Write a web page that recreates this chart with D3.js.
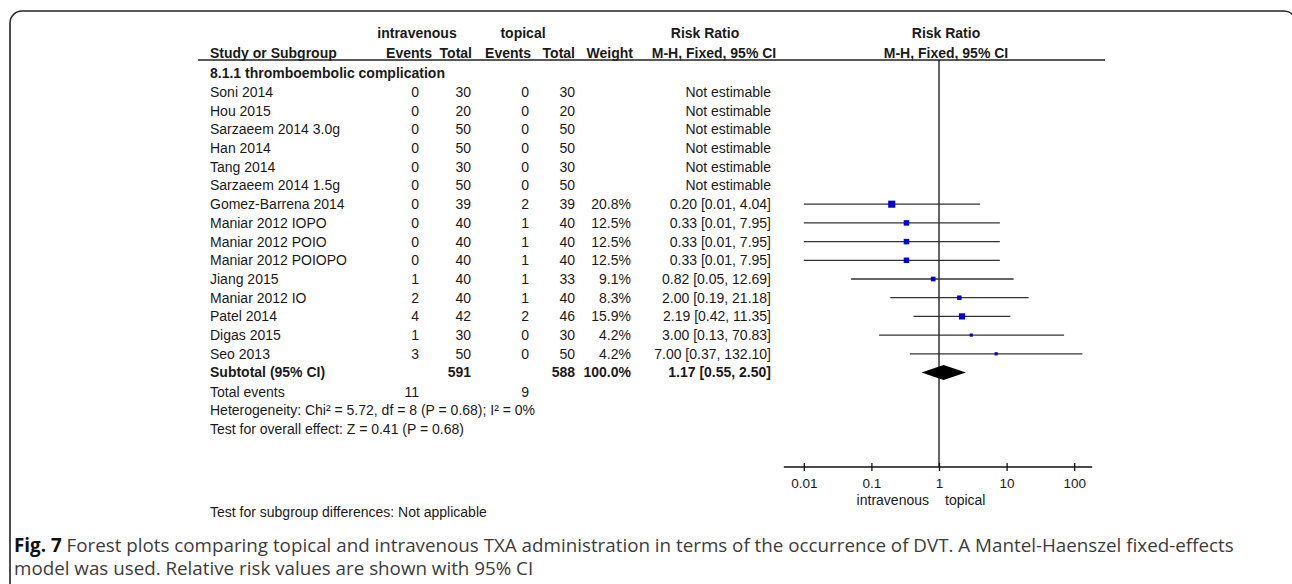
<!DOCTYPE html>
<html lang="en">
<head>
<meta charset="UTF-8">
<title>Forest plot - DVT</title>
<script src="https://d3js.org/d3.v7.min.js"></script>
<style>
  body { margin: 0; background: #fff; }
  text { font-family: "Liberation Sans", Arial, sans-serif; fill: #1a1a1a; }
  .cap { font-family: "Open Sans", "Noto Sans", sans-serif; fill: #3c3c3c; }
</style>
</head>
<body>
<svg id="forest" width="1292" height="584"></svg>
<script>
  // data
  const studies = ["Soni 2014", "Hou 2015", "Sarzaeem 2014 3.0g", "Han 2014", "Tang 2014",
    "Sarzaeem 2014 1.5g", "Gomez-Barrena 2014", "Maniar 2012 IOPO", "Maniar 2012 POIO",
    "Maniar 2012 POIOPO", "Jiang 2015", "Maniar 2012 IO", "Patel 2014", "Digas 2015", "Seo 2013"];
  const ivEvents = [0, 0, 0, 0, 0, 0, 0, 0, 0, 0, 1, 2, 4, 1, 3];
  const ivTotal = [30, 20, 50, 50, 30, 50, 39, 40, 40, 40, 40, 40, 42, 30, 50];
  const topEvents = [0, 0, 0, 0, 0, 0, 2, 1, 1, 1, 1, 1, 2, 0, 0];
  const topTotal = [30, 20, 50, 50, 30, 50, 39, 40, 40, 40, 33, 40, 46, 30, 50];
  const weights = [null, null, null, null, null, null, 20.8, 12.5, 12.5, 12.5, 9.1, 8.3, 15.9, 4.2, 4.2];
  const rr = [null, null, null, null, null, null, 0.20, 0.33, 0.33, 0.33, 0.82, 2.00, 2.19, 3.00, 7.00];
  const ciLow = [null, null, null, null, null, null, 0.01, 0.01, 0.01, 0.01, 0.05, 0.19, 0.42, 0.13, 0.37];
  const ciHigh = [null, null, null, null, null, null, 4.04, 7.95, 7.95, 7.95, 12.69, 21.18, 11.35, 70.83, 132.10];
  const ciText = ["Not estimable", "Not estimable", "Not estimable", "Not estimable", "Not estimable",
    "Not estimable", "0.20 [0.01, 4.04]", "0.33 [0.01, 7.95]", "0.33 [0.01, 7.95]", "0.33 [0.01, 7.95]",
    "0.82 [0.05, 12.69]", "2.00 [0.19, 21.18]", "2.19 [0.42, 11.35]", "3.00 [0.13, 70.83]", "7.00 [0.37, 132.10]"];
  const subtotal = { label: "Subtotal (95% CI)", ivTotal: 591, topTotal: 588, weight: "100.0%",
    rr: 1.17, lo: 0.55, hi: 2.50, text: "1.17 [0.55, 2.50]" };
  const totalEvents = [11, 9];
  const tickVals = [0.01, 0.1, 1, 10, 100];
  const footLines = ["Heterogeneity: Chi² = 5.72, df = 8 (P = 0.68); I² = 0%",
    "Test for overall effect: Z = 0.41 (P = 0.68)"];
  const captionLines = ["Forest plots comparing topical and intravenous TXA administration in terms of the occurrence of DVT. A Mantel-Haenszel fixed-effects",
    "model was used. Relative risk values are shown with 95% CI"];

  const svg = d3.select("#forest");

  // frame with rounded top corners (right side runs off the page)
  svg.append("rect")
    .attr("x", 10).attr("y", 11).attr("width", 1286).attr("height", 700)
    .attr("rx", 12)
    .attr("fill", "none").attr("stroke", "#222").attr("stroke-width", 1.6);

  // column positions
  const col = { study: 210, ivEv: 419, ivTot: 471, topEv: 529, topTot: 575, weight: 631, ci: 771 };
  const y = d3.scaleLinear().domain([0, 15]).range([92, 92 + 15 * 18.7]);
  const x = d3.scaleLog().domain([0.01, 100]).range([803.8, 1074.2]);

  const fs = 14;

  // headers
  const hdr = svg.append("g").style("font-weight", "bold").style("font-size", fs + "px");
  [["intravenous", 417, 38], ["topical", 523, 38], ["Risk Ratio", 705, 38], ["Risk Ratio", 946, 38]]
    .forEach(d => hdr.append("text").attr("x", d[1]).attr("y", d[2]).attr("text-anchor", "middle").text(d[0]));
  hdr.append("text").attr("x", col.study).attr("y", 58).text("Study or Subgroup");
  [["Events", 432], ["Total", 472], ["Events", 531], ["Total", 575], ["Weight", 633]]
    .forEach(d => hdr.append("text").attr("x", d[1]).attr("y", 58).attr("text-anchor", "end").text(d[0]));
  hdr.append("text").attr("x", 714).attr("y", 58).attr("text-anchor", "middle").text("M-H, Fixed, 95% CI");
  hdr.append("text").attr("x", 946).attr("y", 58).attr("text-anchor", "middle").text("M-H, Fixed, 95% CI");

  svg.append("line").attr("x1", 198).attr("x2", 1105).attr("y1", 60).attr("y2", 60)
    .attr("stroke", "#222").attr("stroke-width", 1.4);

  svg.append("text").attr("x", col.study).attr("y", y(-1)).attr("dy", "0.35em")
    .style("font-weight", "bold").style("font-size", fs + "px")
    .text("8.1.1 thromboembolic complication");

  // study rows
  const rows = svg.append("g").style("font-size", fs + "px");
  const rowG = rows.selectAll("g.row").data(studies).join("g")
    .attr("class", "row")
    .attr("transform", (d, i) => `translate(0,${y(i)})`);
  rowG.append("text").attr("x", col.study).attr("dy", "0.35em").text(d => d);
  rowG.append("text").attr("x", col.ivEv).attr("dy", "0.35em").attr("text-anchor", "end").text((d, i) => ivEvents[i]);
  rowG.append("text").attr("x", col.ivTot).attr("dy", "0.35em").attr("text-anchor", "end").text((d, i) => ivTotal[i]);
  rowG.append("text").attr("x", col.topEv).attr("dy", "0.35em").attr("text-anchor", "end").text((d, i) => topEvents[i]);
  rowG.append("text").attr("x", col.topTot).attr("dy", "0.35em").attr("text-anchor", "end").text((d, i) => topTotal[i]);
  rowG.append("text").attr("x", col.weight).attr("dy", "0.35em").attr("text-anchor", "end")
    .text((d, i) => weights[i] == null ? "" : weights[i].toFixed(1) + "%");
  rowG.append("text").attr("x", col.ci).attr("dy", "0.35em").attr("text-anchor", "end").text((d, i) => ciText[i]);

  // subtotal row
  const sub = svg.append("g").attr("transform", `translate(0,${y(15)})`)
    .style("font-size", fs + "px").style("font-weight", "bold");
  sub.append("text").attr("x", col.study).attr("dy", "0.35em").text(subtotal.label);
  sub.append("text").attr("x", col.ivTot).attr("dy", "0.35em").attr("text-anchor", "end").text(subtotal.ivTotal);
  sub.append("text").attr("x", col.topTot).attr("dy", "0.35em").attr("text-anchor", "end").text(subtotal.topTotal);
  sub.append("text").attr("x", col.weight).attr("dy", "0.35em").attr("text-anchor", "end").text(subtotal.weight);
  sub.append("text").attr("x", col.ci).attr("dy", "0.35em").attr("text-anchor", "end").text(subtotal.text);

  // totals and tests
  const te = svg.append("g").attr("transform", `translate(0,${y(16) + 1})`).style("font-size", fs + "px");
  te.append("text").attr("x", col.study).attr("dy", "0.35em").text("Total events");
  te.append("text").attr("x", col.ivEv).attr("dy", "0.35em").attr("text-anchor", "end").text(totalEvents[0]);
  te.append("text").attr("x", col.topEv).attr("dy", "0.35em").attr("text-anchor", "end").text(totalEvents[1]);
  footLines.forEach((t, k) => {
    svg.append("text").attr("x", col.study).attr("y", y(17 + k) + 0.5).attr("dy", "0.35em")
      .style("font-size", fs + "px").text(t);
  });
  svg.append("text").attr("x", col.study).attr("y", 512).attr("dy", "0.35em")
    .style("font-size", fs + "px").text("Test for subgroup differences: Not applicable");

  // forest plot
  const axisY = 467;
  svg.append("line").attr("x1", x(1)).attr("x2", x(1)).attr("y1", 60).attr("y2", axisY)
    .attr("stroke", "#111").attr("stroke-width", 1.3);

  const est = studies.map((d, i) => i).filter(i => rr[i] != null);
  svg.append("g").selectAll("line").data(est).join("line")
    .attr("x1", i => x(ciLow[i])).attr("x2", i => x(ciHigh[i]))
    .attr("y1", i => y(i)).attr("y2", i => y(i))
    .attr("stroke", "#333").attr("stroke-width", 1.3);
  const side = i => 1.55 * Math.sqrt(weights[i]);
  svg.append("g").selectAll("rect").data(est).join("rect")
    .attr("x", i => x(rr[i]) - side(i) / 2).attr("y", i => y(i) - side(i) / 2)
    .attr("width", side).attr("height", side)
    .attr("fill", "#0000d0");

  const dy = y(15), dh = 7.5;
  svg.append("path")
    .attr("d", `M${x(subtotal.lo)},${dy} L${x(subtotal.rr)},${dy - dh} L${x(subtotal.hi)},${dy} L${x(subtotal.rr)},${dy + dh} Z`)
    .attr("fill", "#000");

  // axis
  const ax = svg.append("g").attr("transform", `translate(0,${axisY})`)
    .call(d3.axisBottom(x).tickValues(tickVals).tickFormat(d => String(d)).tickSize(4).tickPadding(7));
  ax.select(".domain").remove();
  ax.selectAll(".tick line").attr("y1", -4).attr("y2", 4).attr("stroke", "#111").attr("stroke-width", 1.3);
  ax.selectAll(".tick text").style("font-family", "Liberation Sans, Arial, sans-serif")
    .style("font-size", "13.5px").attr("fill", "#1a1a1a");
  ax.append("line").attr("x1", x(0.01) - 20).attr("x2", x(100) + 18).attr("y1", 0).attr("y2", 0)
    .attr("stroke", "#111").attr("stroke-width", 1.3);

  svg.append("text").attr("x", x(1) - 10).attr("y", 505).attr("text-anchor", "end")
    .style("font-size", fs + "px").text("intravenous");
  svg.append("text").attr("x", x(1) + 6).attr("y", 505)
    .style("font-size", fs + "px").text("topical");

  // caption
  const cap = svg.append("text").attr("class", "cap").attr("x", 14).attr("y", 552).style("font-size", "18.8px");
  cap.append("tspan").style("font-weight", "bold").attr("fill", "#111").text("Fig. 7");
  cap.append("tspan").text(" " + captionLines[0]);
  svg.append("text").attr("class", "cap").attr("x", 14).attr("y", 575).style("font-size", "18.8px")
    .text(captionLines[1]);
</script>
</body>
</html>
